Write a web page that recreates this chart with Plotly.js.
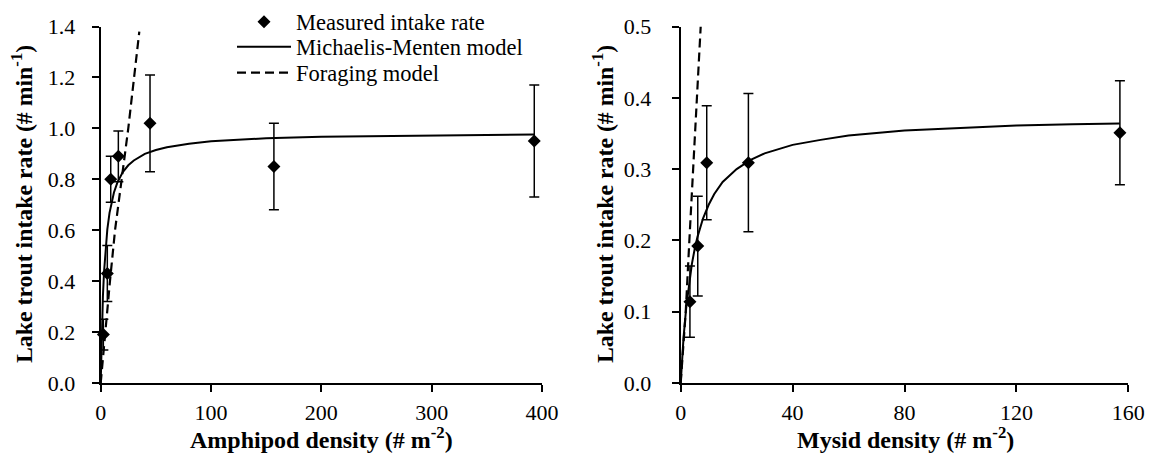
<!DOCTYPE html>
<html>
<head>
<meta charset="utf-8">
<script src="https://cdn.plot.ly/plotly-3.0.1.min.js"></script>
<style>html,body{margin:0;padding:0;background:#fff;}#chart{width:1158px;height:469px;}</style>
</head>
<body>
<div id="chart"></div>
<script>
// ---- Left panel: amphipods ----
const amphDensity = [2.4, 6.0, 9.1, 16, 44.7, 157, 393];
const amphIntake = [0.19, 0.43, 0.80, 0.89, 1.02, 0.85, 0.95];
const amphError = [0.06, 0.11, 0.09, 0.10, 0.19, 0.17, 0.22];
const amphMMx = [0, 0.5, 1, 2, 3, 4, 5, 6, 8, 10, 12, 15, 20, 25, 30, 40, 50, 60, 80, 100, 150, 200, 250, 300, 350, 393];
const amphMMy = [0, 0.115, 0.205, 0.340, 0.435, 0.505, 0.560, 0.603, 0.668, 0.714, 0.748, 0.786, 0.828, 0.855, 0.874, 0.900, 0.915, 0.926, 0.940, 0.949, 0.961, 0.967, 0.970, 0.973, 0.974, 0.976];
const amphForx = [0, 3.9, 8.4, 13, 19, 25, 35];
const amphFory = [0, 0.2, 0.4, 0.6, 0.8, 1.0, 1.38];

// ---- Right panel: mysids ----
const mysDensity = [3.3, 6.1, 9.3, 24.2, 157];
const mysIntake = [0.114, 0.192, 0.309, 0.309, 0.351];
const mysError = [0.05, 0.07, 0.08, 0.097, 0.073];
const mysMMx = [0, 0.5, 1, 2, 3, 4, 5, 6, 8, 10, 12, 15, 20, 25, 30, 40, 50, 60, 80, 100, 120, 140, 157];
const mysMMy = [0, 0.034, 0.063, 0.107, 0.141, 0.167, 0.188, 0.205, 0.231, 0.250, 0.265, 0.282, 0.300, 0.313, 0.322, 0.334, 0.341, 0.347, 0.354, 0.358, 0.361, 0.363, 0.364];
const mysForx = [0, 1.8, 3.1, 4.45, 5.8, 7.15];
const mysFory = [0, 0.1, 0.2, 0.3, 0.4, 0.5];

// ---- Ticks ----
const leftXTicks = [0, 100, 200, 300, 400];
const leftXLabels = ['0', '100', '200', '300', '400'];
const leftYTicks = [0, 0.2, 0.4, 0.6, 0.8, 1.0, 1.2, 1.4];
const leftYLabels = ['0.0', '0.2', '0.4', '0.6', '0.8', '1.0', '1.2', '1.4'];
const rightXTicks = [0, 40, 80, 120, 160];
const rightXLabels = ['0', '40', '80', '120', '160'];
const rightYTicks = [0, 0.1, 0.2, 0.3, 0.4, 0.5];
const rightYLabels = ['0.0', '0.1', '0.2', '0.3', '0.4', '0.5'];

const legendNames = ['Measured intake rate', 'Michaelis-Menten model', 'Foraging model'];
const yTitle = 'Lake trout intake rate (# min<sup>-1</sup>)';
const leftXTitle = 'Amphipod density (# m<sup>-2</sup>)';
const rightXTitle = 'Mysid density (# m<sup>-2</sup>)';

const FONT = 'Liberation Serif, serif';
const solid = {color: 'black', width: 2};
const dashed = {color: 'black', width: 2.2, dash: '9px,5px'};
const marker = {symbol: 'diamond', size: 10, color: 'black'};
const errStyle = a => ({type: 'data', array: a, visible: true, color: 'black', thickness: 1.5, width: 5});

const data = [
  {x: amphMMx, y: amphMMy, mode: 'lines', line: solid, name: legendNames[1], legend: 'legend2', xaxis: 'x', yaxis: 'y', hoverinfo: 'skip'},
  {x: amphForx, y: amphFory, mode: 'lines', line: dashed, name: legendNames[2], legend: 'legend3', xaxis: 'x', yaxis: 'y', hoverinfo: 'skip'},
  {x: amphDensity, y: amphIntake, mode: 'markers', marker: marker, error_y: errStyle(amphError), name: legendNames[0], legend: 'legend', xaxis: 'x', yaxis: 'y', cliponaxis: false},
  {x: mysMMx, y: mysMMy, mode: 'lines', line: solid, showlegend: false, xaxis: 'x2', yaxis: 'y2', hoverinfo: 'skip'},
  {x: mysForx, y: mysFory, mode: 'lines', line: dashed, showlegend: false, xaxis: 'x2', yaxis: 'y2', hoverinfo: 'skip'},
  {x: mysDensity, y: mysIntake, mode: 'markers', marker: marker, error_y: errStyle(mysError), showlegend: false, xaxis: 'x2', yaxis: 'y2', cliponaxis: false}
];

const W = 1158, H = 469;
const axBase = {
  showgrid: false, zeroline: false, showline: true, linewidth: 2, linecolor: 'black',
  ticks: 'outside', ticklen: 7, tickwidth: 2, tickcolor: 'black',
  tickfont: {family: FONT, size: 22, color: 'black'}, tickmode: 'array', automargin: false, fixedrange: true
};
const yDom = [1 - 383 / H, 1 - 26.5 / H];
const legBase = {xanchor: 'left', yanchor: 'top', bgcolor: 'rgba(0,0,0,0)', borderwidth: 0,
  font: {family: FONT, size: 22.5, color: 'black'}, itemwidth: 54};

const layout = {
  width: W, height: H,
  margin: {l: 0, r: 0, t: 0, b: 0},
  paper_bgcolor: 'white', plot_bgcolor: 'white',
  font: {family: FONT},
  showlegend: true,
  legend: Object.assign({}, legBase, {x: 232 / W, y: 1 - 0.5 / H}),
  legend2: Object.assign({}, legBase, {x: 232 / W, y: 1 - 25.5 / H}),
  legend3: Object.assign({}, legBase, {x: 232 / W, y: 1 - 51.5 / H}),
  xaxis: Object.assign({}, axBase, {domain: [100.7 / W, 542 / W], range: [0, 400], tickvals: leftXTicks, ticktext: leftXLabels, anchor: 'y', ticklabelstandoff: 2}),
  yaxis: Object.assign({}, axBase, {domain: yDom, range: [0, 1.4], tickvals: leftYTicks, ticktext: leftYLabels, anchor: 'x', ticklabelstandoff: 12}),
  xaxis2: Object.assign({}, axBase, {domain: [680.7 / W, 1128.3 / W], range: [0, 160], tickvals: rightXTicks, ticktext: rightXLabels, anchor: 'y2', ticklabelstandoff: 2}),
  yaxis2: Object.assign({}, axBase, {domain: yDom, range: [0, 0.5], tickvals: rightYTicks, ticktext: rightYLabels, anchor: 'x2', ticklabelstandoff: 16}),
  annotations: [
    {xref: 'paper', yref: 'paper', x: 22 / W, y: 1 - 204 / H, text: '<b>' + yTitle + '</b>', textangle: -90, showarrow: false, xanchor: 'center', yanchor: 'middle', font: {family: FONT, size: 23.8, color: 'black'}},
    {xref: 'paper', yref: 'paper', x: 603 / W, y: 1 - 204 / H, text: '<b>' + yTitle + '</b>', textangle: -90, showarrow: false, xanchor: 'center', yanchor: 'middle', font: {family: FONT, size: 23.8, color: 'black'}},
    {xref: 'paper', yref: 'paper', x: 321 / W, y: 1 - 437.5 / H, text: '<b>' + leftXTitle + '</b>', showarrow: false, xanchor: 'center', yanchor: 'middle', font: {family: FONT, size: 24, color: 'black'}},
    {xref: 'paper', yref: 'paper', x: 905 / W, y: 1 - 437.5 / H, text: '<b>' + rightXTitle + '</b>', showarrow: false, xanchor: 'center', yanchor: 'middle', font: {family: FONT, size: 24, color: 'black'}}
  ]
};

Plotly.newPlot('chart', data, layout, {displayModeBar: false, staticPlot: true});
</script>
</body>
</html>
